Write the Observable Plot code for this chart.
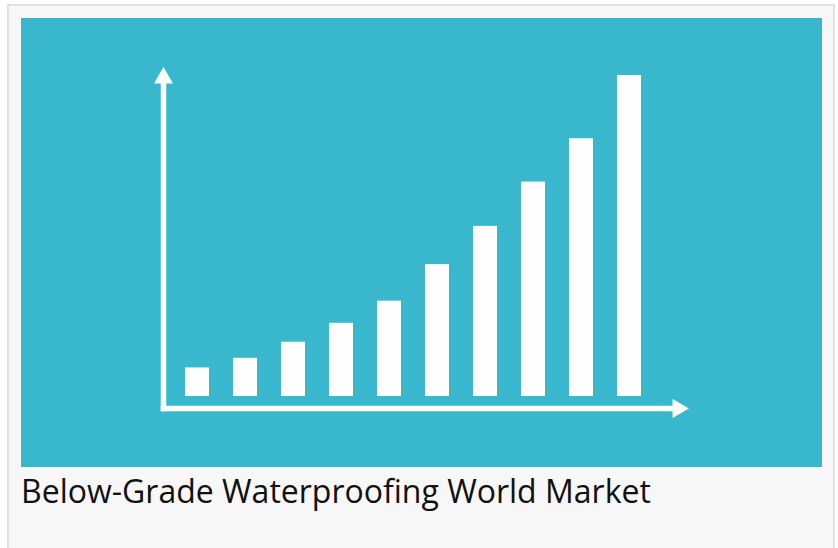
<!DOCTYPE html>
<html>
<head>
<meta charset="utf-8">
<script src="https://cdn.jsdelivr.net/npm/d3@7"></script>
<script src="https://cdn.jsdelivr.net/npm/@observablehq/plot@0.6"></script>
<style>
  html, body { margin: 0; padding: 0; background: #ffffff; overflow: hidden; }
  #card {
    position: absolute; left: 7px; top: 4px; width: 824px; height: 600px;
    border: 2px solid #e2e2e2; border-bottom: none; background: #f7f7f7;
    box-sizing: content-box;
  }
  #inner { position: absolute; left: 12px; top: 12px; }
  #chart svg { display: block; }
  #caption {
    margin-top: 8px; margin-left: 0px;
    font-family: "Open Sans", sans-serif; font-size: 32px; line-height: 32px;
    color: #111111; white-space: nowrap;
  }
</style>
</head>
<body>
<div id="card"><div id="inner"><div id="chart"></div><div id="caption"></div></div></div>
<script>
// Data (relative market size index, tallest bar = 100)
const periods = ["1", "2", "3", "4", "5", "6", "7", "8", "9", "10"];
const values = [8.9, 11.9, 16.9, 22.8, 29.7, 41.1, 53.0, 66.8, 80.3, 100];
const captionText = "Below-Grade Waterproofing World Market";

const data = periods.map((p, i) => ({period: p, value: values[i]}));

const teal = "#39b8cd";
const W = 801, H = 449;

const chart = Plot.plot({
  width: W,
  height: H,
  marginLeft: 142,
  marginRight: 150,
  marginTop: 65,
  marginBottom: 59,
  style: {background: teal, overflow: "visible"},
  x: {type: "band", domain: periods, range: [162.5, 621.3], paddingInner: 0.49, paddingOuter: 0, axis: null},
  y: {domain: [0, 100], range: [378, 57], axis: null},
  marks: [
    Plot.barY(data, {x: "period", y: "value", fill: "#ffffff"}),
    Plot.frame({anchor: "left", stroke: "#ffffff", strokeWidth: 5.5, strokeLinecap: "square"}),
    Plot.frame({anchor: "bottom", stroke: "#ffffff", strokeWidth: 5.5, strokeLinecap: "square"}),
    Plot.dot([0], {frameAnchor: "top-left", symbol: "triangle", r: 7, fill: "#ffffff", stroke: "none", dy: -5.5}),
    Plot.dot([0], {frameAnchor: "bottom-right", symbol: "triangle", r: 7, fill: "#ffffff", stroke: "none", rotate: 90, dx: 5.5})
  ]
});

document.getElementById("chart").appendChild(chart);
document.getElementById("caption").textContent = captionText;
</script>
</body>
</html>
